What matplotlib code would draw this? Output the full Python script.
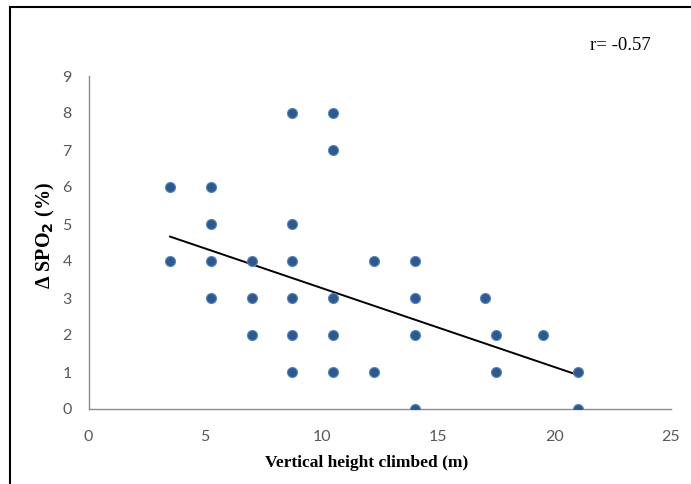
import numpy as np
import matplotlib
matplotlib.use("Agg")
import matplotlib.pyplot as plt
from matplotlib.patches import Rectangle

height_m = [3.5, 3.5, 5.25, 5.25, 5.25, 5.25, 7, 7, 7,
            8.75, 8.75, 8.75, 8.75, 8.75, 8.75,
            10.5, 10.5, 10.5, 10.5, 10.5,
            12.25, 12.25, 14, 14, 14, 14,
            17, 17.5, 17.5, 19.5, 21, 21]
delta_spo2 = [6, 4, 6, 5, 4, 3, 4, 3, 2,
              8, 5, 4, 3, 2, 1,
              8, 7, 3, 2, 1,
              4, 1, 4, 3, 2, 0,
              3, 2, 1, 2, 1, 0]
trend_x = [3.5, 21]
trend_y = [4.66, 0.92]
x_ticks = [0, 5, 10, 15, 20, 25]
y_ticks = list(range(0, 10))
r_label = "r= -0.57"

W, H = 691, 484
L, R, T, B = 88.5, 671, 76, 409
fig = plt.figure(figsize=(W / 100, H / 100), dpi=100)
ax = fig.add_axes([L / W, 1 - B / H, (R - L) / W, (B - T) / H])

ax.scatter(height_m, delta_spo2, s=52, color="#2B5A93", edgecolors="#5B86C0",
           linewidths=0.8, zorder=3)
ax.plot(trend_x, trend_y, color="black", lw=1.4, zorder=2)

ax.set_xlim(0, 25)
ax.set_ylim(0, 9)
ax.set_xticks(x_ticks)
ax.set_yticks(y_ticks)
ax.tick_params(length=0, labelsize=11.5, labelcolor="#595959")
ax.tick_params(axis="x", pad=15)
ax.tick_params(axis="y", pad=12)
for lab in ax.get_xticklabels() + ax.get_yticklabels():
    lab.set_family("Lato")
for s in ["top", "right"]:
    ax.spines[s].set_visible(False)
for s in ["left", "bottom"]:
    ax.spines[s].set_color("#8C8C8C")
    ax.spines[s].set_linewidth(1.0)

ax.set_xlabel("Vertical height climbed (m)", family="Liberation Serif", fontweight="bold",
              fontsize=12.5)
ax.xaxis.set_label_coords((367 - L) / (R - L), -(463 - B) / (B - T))
ax.xaxis.label.set_va("center")
ax.set_ylabel("Δ SPO$_\\mathbf{2}$ (%)", family="Liberation Serif", fontweight="bold",
              fontsize=14.5)
ax.yaxis.set_label_coords(-(L - 45) / (R - L), (B - 236) / (B - T))
ax.yaxis.label.set_va("center")

fig.text(620 / W, 1 - 45 / H, r_label, family="Liberation Serif", fontsize=13.5,
         ha="center", va="center")

fig.patches.append(Rectangle((10 / W, -0.1), 1.2, 1 - 7 / H + 0.1, transform=fig.transFigure,
                             fill=False, edgecolor="black", lw=1.5))

fig.savefig("out.png", dpi=100)
